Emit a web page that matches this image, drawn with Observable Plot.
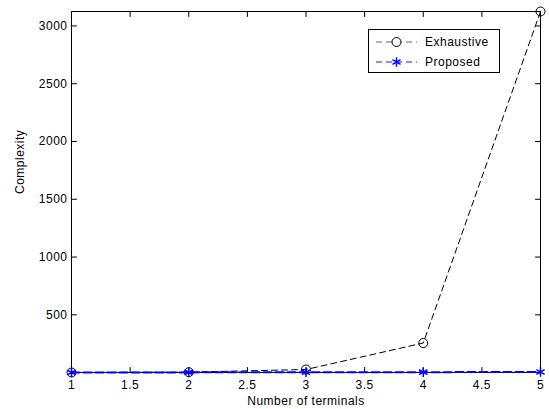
<!DOCTYPE html>
<html><head><meta charset="utf-8">
<script src="https://cdn.jsdelivr.net/npm/d3@7"></script>
<script src="https://cdn.jsdelivr.net/npm/@observablehq/plot@0.6"></script>
<style>
body{margin:0;background:#fff;}
#chart svg{display:block;}
</style></head><body><div id="chart"></div>
<script>
const terminals = [1, 2, 3, 4, 5];
const exhaustive = [1, 4, 27, 256, 3125];
const proposed = [1, 2, 3, 4, 5];
const xTicks = [1, 1.5, 2, 2.5, 3, 3.5, 4, 4.5, 5];
const yTicks = [500, 1000, 1500, 2000, 2500, 3000];
const seriesNames = ["Exhaustive", "Proposed"];
const xLabel = "Number of terminals";
const yLabel = "Complexity";

const exData = terminals.map((t, i) => ({t, v: exhaustive[i]}));
const prData = terminals.map((t, i) => ({t, v: proposed[i]}));

const font = "'Liberation Sans', Arial, sans-serif";
const blue = "#0000ff";
const tickShape = {draw(context, l) { context.moveTo(0, 0); context.lineTo(0, -l); }};

const chart = Plot.plot({
  width: 549, height: 409,
  marginLeft: 71, marginRight: 9, marginTop: 11, marginBottom: 37,
  style: {fontFamily: font, fontSize: "12px", background: "#fff", color: "#000", overflow: "visible", letterSpacing: "0.5px"},
  x: {domain: [1, 5]},
  y: {domain: [1, 3125]},
  marks: [
    Plot.axisX(xTicks, {anchor: "bottom", tickSize: 0, tickPadding: 8, label: null, tickFormat: d => String(d)}),
    Plot.axisY(yTicks, {anchor: "left", tickSize: 0, tickPadding: 4, label: null, tickFormat: d => String(d)}),
    Plot.vector(xTicks, {x: d => d, frameAnchor: "bottom", length: 5, rotate: 0, anchor: "start", shape: tickShape, stroke: "#000", strokeWidth: 1}),
    Plot.vector(xTicks, {x: d => d, frameAnchor: "top", length: 5, rotate: 180, anchor: "start", shape: tickShape, stroke: "#000", strokeWidth: 1}),
    Plot.vector(yTicks, {y: d => d, frameAnchor: "left", length: 5, rotate: 90, anchor: "start", shape: tickShape, stroke: "#000", strokeWidth: 1}),
    Plot.vector(yTicks, {y: d => d, frameAnchor: "right", length: 5, rotate: -90, anchor: "start", shape: tickShape, stroke: "#000", strokeWidth: 1}),
    Plot.frame({stroke: "#000", strokeWidth: 1}),
    Plot.line(exData, {x: "t", y: "v", stroke: "#000", strokeWidth: 1, strokeDasharray: "6,4"}),
    Plot.dot(exData, {x: "t", y: "v", r: 4.5, stroke: "#000", strokeWidth: 1, fill: "none"}),
    Plot.line(prData, {x: "t", y: "v", stroke: blue, strokeWidth: 2, strokeDasharray: "8,4"}),
    Plot.dot(prData, {x: "t", y: "v", symbol: "asterisk", r: 4.5, stroke: blue, strokeWidth: 1.5}),
    Plot.text([xLabel], {frameAnchor: "bottom", dy: 28.5, lineAnchor: "middle", fontSize: 12}),
    Plot.text([yLabel], {frameAnchor: "left", dx: -51, dy: 2, rotate: -90, lineAnchor: "middle", fontSize: 12})
  ]
});
document.getElementById("chart").append(chart);

// legend inside the plot box
const svg = d3.select(chart);
const lg = svg.append("g").attr("font-family", font).attr("font-size", 12)
  .attr("text-anchor", "start").style("letter-spacing", "0.5px");
lg.append("rect").attr("x", 368.5).attr("y", 29.5).attr("width", 131).attr("height", 43)
  .attr("fill", "#fff").attr("stroke", "#000").attr("stroke-width", 1);
const rows = [
  {name: seriesNames[0], color: "#000", dash: "6,4", w: 1},
  {name: seriesNames[1], color: blue, dash: "6,4", w: 1.5}
];
rows.forEach((r, i) => {
  const cy = 42 + i * 20;
  lg.append("line").attr("x1", 376).attr("x2", 417).attr("y1", cy).attr("y2", cy)
    .attr("stroke", r.color).attr("stroke-width", r.w).attr("stroke-dasharray", r.dash).attr("stroke-opacity", 0.6);
  if (i === 0) {
    lg.append("circle").attr("cx", 396.5).attr("cy", cy).attr("r", 4.5).attr("fill", "#fff").attr("stroke", "#000");
  } else {
    lg.append("path").attr("transform", `translate(396.5,${cy})`).attr("d", d3.symbol(d3.symbolAsterisk, 60)())
      .attr("stroke", blue).attr("stroke-width", 1.5).attr("fill", "none");
  }
  lg.append("text").attr("x", 425).attr("y", cy).attr("dy", "0.35em").attr("text-anchor", "start").text(r.name);
});
</script></body></html>
